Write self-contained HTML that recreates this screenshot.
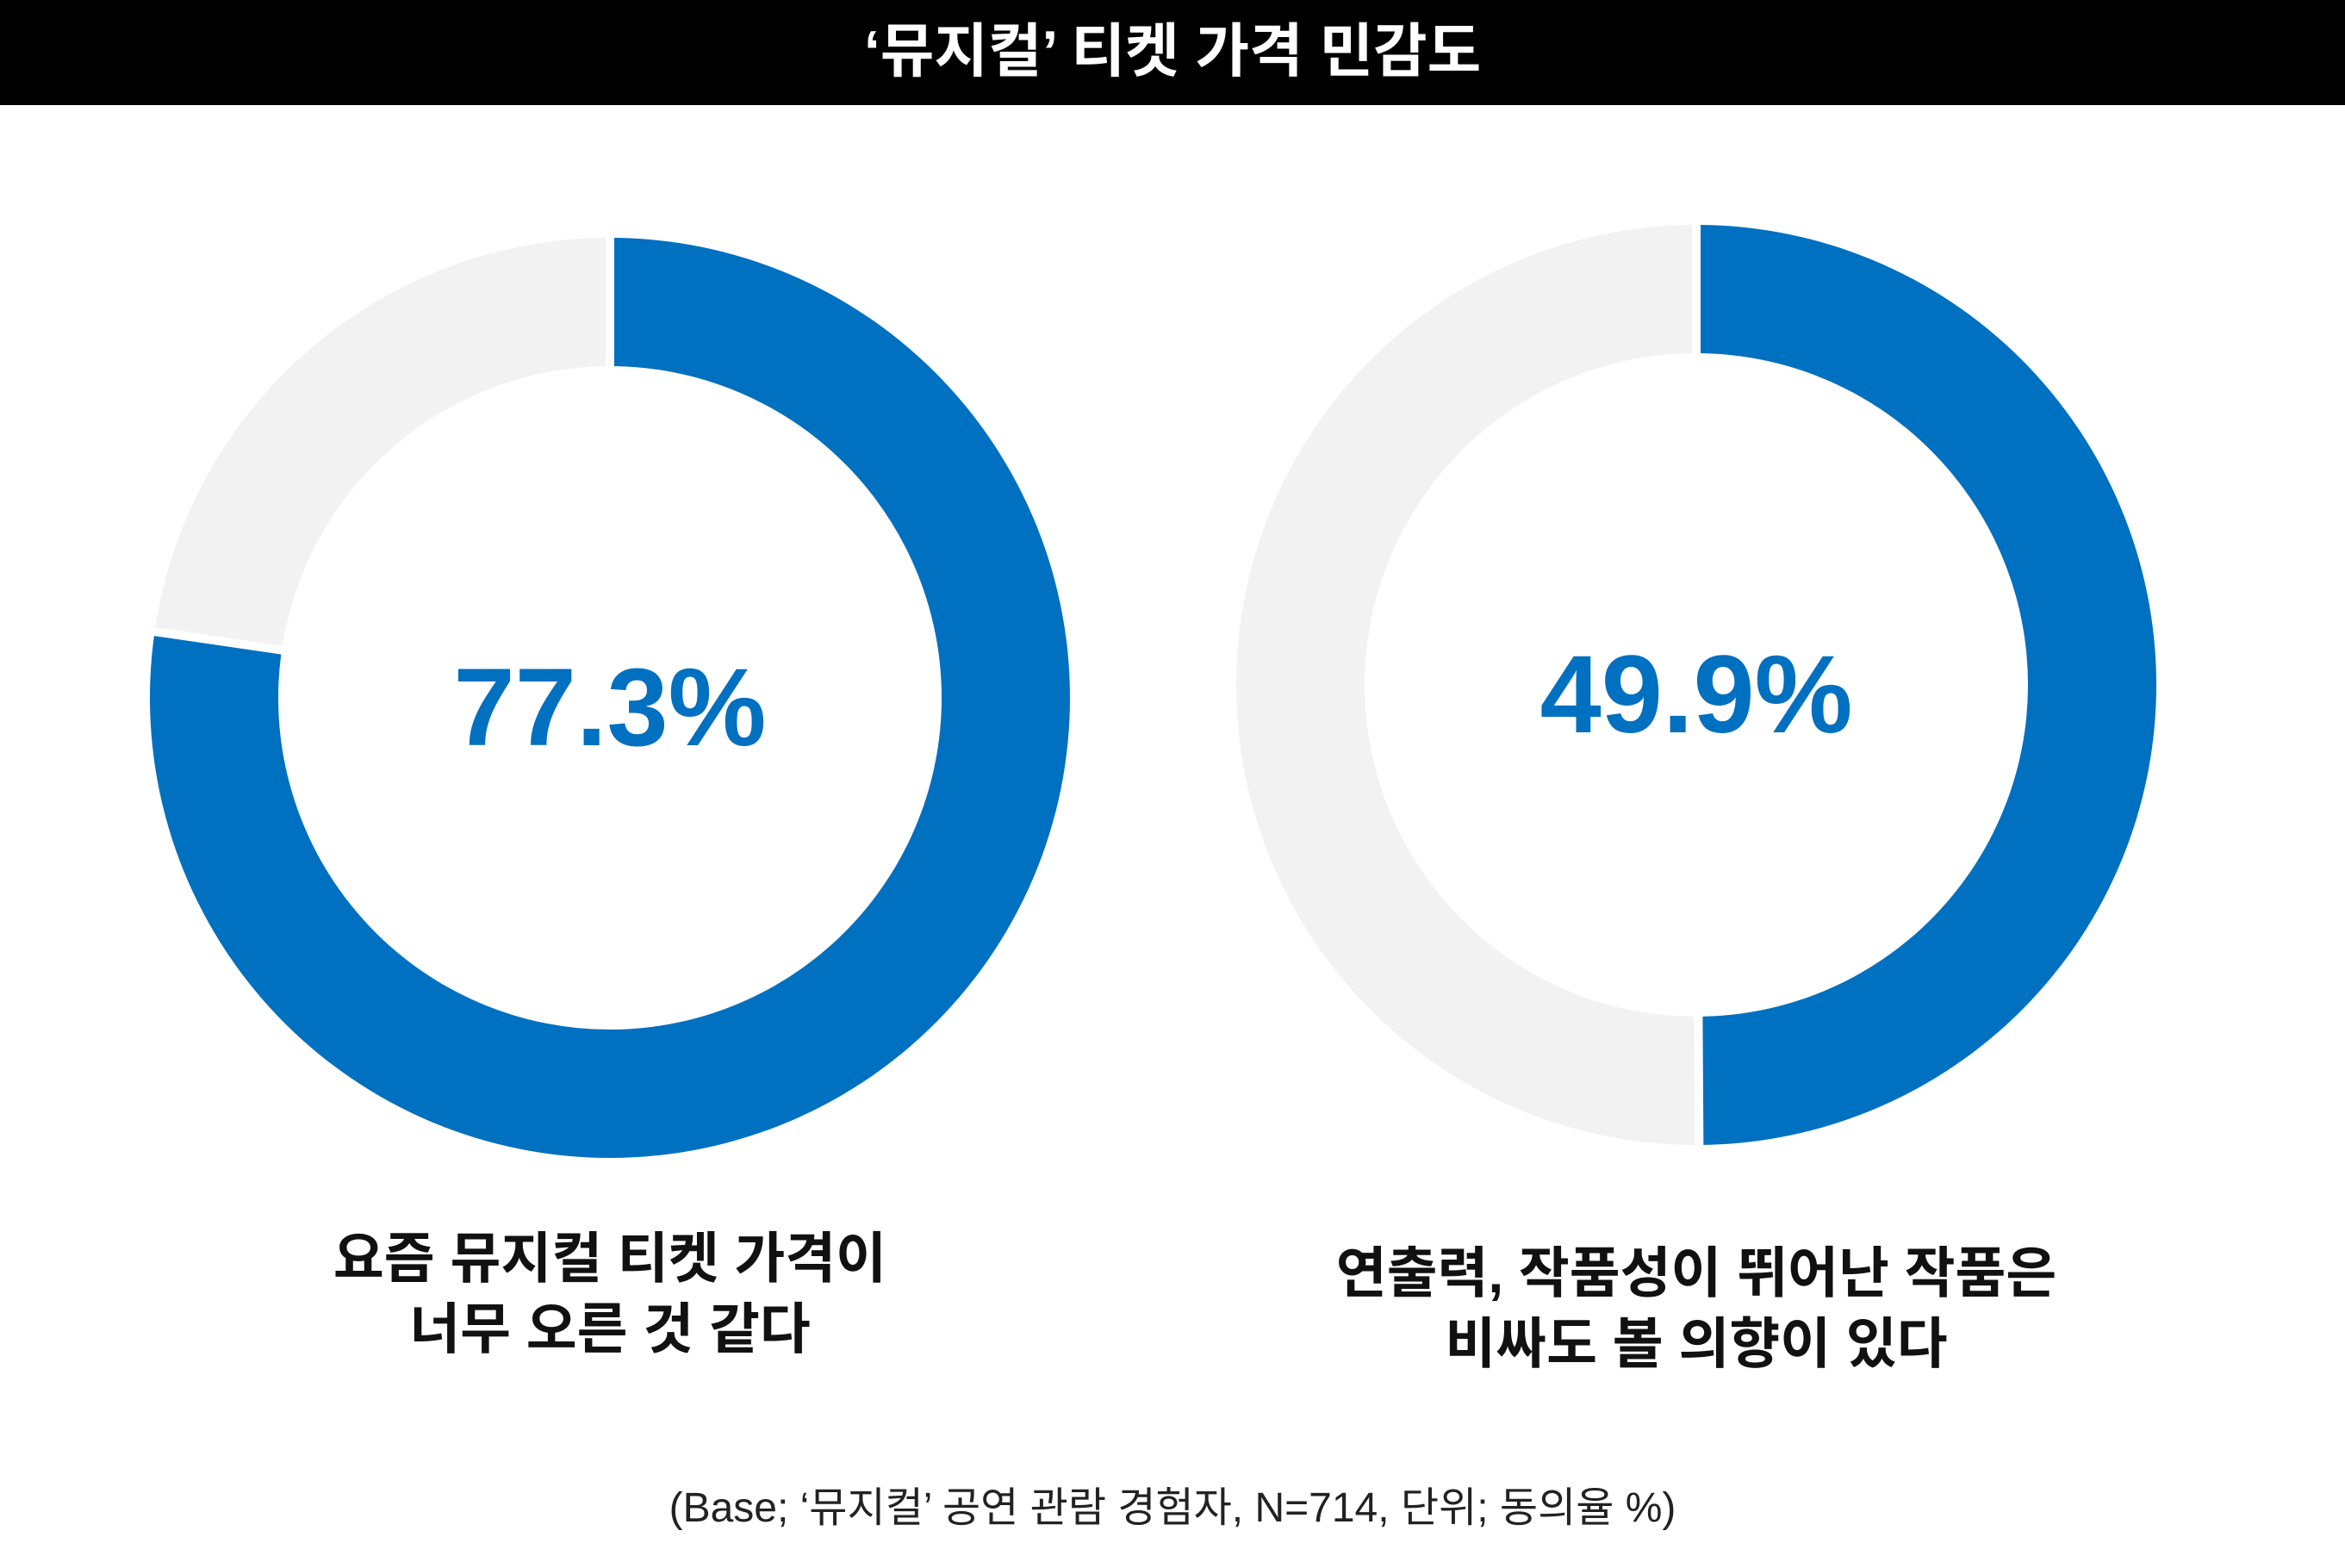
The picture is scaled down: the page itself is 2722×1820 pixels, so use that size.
<!DOCTYPE html>
<html><head><meta charset="utf-8"><style>
body{margin:0;width:2722px;height:1820px;background:#fff;overflow:hidden;font-family:"Liberation Sans","Noto Sans CJK KR",sans-serif}
.title{position:absolute;left:0;top:0;width:2722px;height:122px;background:#000;color:#fff;font-weight:bold;font-size:68px;text-align:center;line-height:120px}
.lbl{position:absolute;text-align:center;font-weight:bold;font-size:64px;line-height:82px;color:#111;width:1200px}
.foot{position:absolute;left:0;width:2722px;top:1710px;text-align:center;font-size:48px;color:#222}
</style></head><body>
<div class="title">‘뮤지컬’ 티켓 가격 민감도</div>
<svg id="chart" width="2722" height="1820" style="position:absolute;left:0;top:0"></svg>
<div class="lbl" style="left:108px;top:1420px">요즘 뮤지컬 티켓 가격이<br>너무 오른 것 같다</div>
<div class="lbl" style="left:1369px;top:1437px">연출력, 작품성이 뛰어난 작품은<br>비싸도 볼 의향이 있다</div>
<div class="foot">(Base; ‘뮤지컬’ 공연 관람 경험자, N=714, 단위; 동의율 %)</div>
<script>
const values=[77.3,49.9];
const valueLabels=["77.3%","49.9%"];
const centersX=[708,1969], centersY=[810,795];
const R=534, r=385;
const svg=document.getElementById('chart');
const NS='http://www.w3.org/2000/svg';
function pt(cx,cy,rad,f){const a=f*2*Math.PI;return [cx+rad*Math.sin(a),cy-rad*Math.cos(a)];}
function arc(cx,cy,f0,f1){
  const large=(f1-f0)>0.5?1:0;
  const a=pt(cx,cy,R,f0),b=pt(cx,cy,R,f1),c=pt(cx,cy,r,f1),d=pt(cx,cy,r,f0);
  return `M${a}L${a}A${R},${R} 0 ${large} 1 ${b}L${c}A${r},${r} 0 ${large} 0 ${d}Z`;
}
function seg(cx,cy,f0){const a=pt(cx,cy,R+4,f0),b=pt(cx,cy,r-4,f0);return [a,b];}
values.forEach((v,i)=>{
  const cx=centersX[i],cy=centersY[i],f=v/100;
  const g=document.createElementNS(NS,'path');
  g.setAttribute('d',arc(cx,cy,f,1));g.setAttribute('fill','#F2F2F2');
  
  
  svg.appendChild(g);
  const p=document.createElementNS(NS,'path');
  p.setAttribute('d',arc(cx,cy,0,f));p.setAttribute('fill','#0070C0');
  
  
  svg.appendChild(p);
  [0,f].forEach(ff=>{const [a,b]=seg(cx,cy,ff);const l=document.createElementNS(NS,'line');
    l.setAttribute('x1',a[0]);l.setAttribute('y1',a[1]);l.setAttribute('x2',b[0]);l.setAttribute('y2',b[1]);
    l.setAttribute('stroke','#fff');l.setAttribute('stroke-width','10');
    
    
    svg.appendChild(l);});
  const t=document.createElementNS(NS,'text');
  t.setAttribute('x',cx);t.setAttribute('y',cy+55);t.setAttribute('text-anchor','middle');
  t.setAttribute('font-size','128');t.setAttribute('font-weight','bold');t.setAttribute('fill','#0070C0');
  t.setAttribute('font-family','"Liberation Sans", sans-serif');
  t.textContent=valueLabels[i];
  
  
  svg.appendChild(t);
});
</script>
</body></html>
